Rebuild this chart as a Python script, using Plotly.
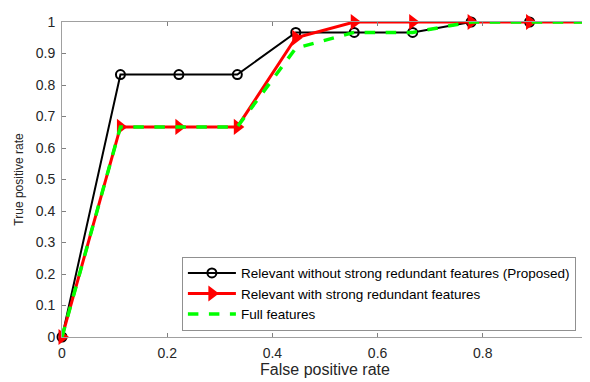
import plotly.graph_objects as go

fpr = [0, 1/9, 2/9, 3/9, 4/9, 5/9, 6/9, 7/9, 8/9, 1]
tpr_proposed = [0, 0.833, 0.833, 0.833, 0.967, 0.967, 0.967, 1, 1, 1]
tpr_redundant = [0, 0.667, 0.667, 0.667, 0.95, 1, 1, 1, 1, 1]
tpr_full = [0, 0.667, 0.667, 0.667, 0.917, 0.967, 0.967, 1, 1, 1]

names = ["Relevant without strong redundant features (Proposed)",
         "Relevant with strong redundant features",
         "Full features"]

x_ticks = [0, 0.2, 0.4, 0.6, 0.8, 1]
y_ticks = [0, 0.1, 0.2, 0.3, 0.4, 0.5, 0.6, 0.7, 0.8, 0.9, 1]

FONT = "Liberation Sans, Arial, sans-serif"

fig = go.Figure()
fig.add_trace(go.Scatter(
    x=fpr, y=tpr_proposed, name=names[0], mode="lines+markers",
    line=dict(color="black", width=2),
    marker=dict(symbol="circle-open", size=9, color="black", line=dict(width=2)),
    cliponaxis=False,
))
fig.add_trace(go.Scatter(
    x=fpr, y=tpr_redundant, name=names[1], mode="lines+markers",
    line=dict(color="#ff0000", width=3),
    marker=dict(symbol="triangle-right", size=14, color="#ff0000"),
    cliponaxis=False,
))
fig.add_trace(go.Scatter(
    x=fpr, y=tpr_full, name=names[2], mode="lines",
    line=dict(color="#00ff00", width=3.5, dash="dash"),
    cliponaxis=False,
))

axis_common = dict(
    showgrid=False, zeroline=False, showline=True, linecolor="#a0a0a0", linewidth=1,
    mirror="ticks", ticks="inside", ticklen=4, tickcolor="#808080",
    tickfont=dict(family=FONT, size=14, color="#262626"),
    ticklabeloverflow="allow",
)

fig.update_layout(
    width=590, height=382,
    margin=dict(l=54, r=8, t=6, b=53),
    paper_bgcolor="white", plot_bgcolor="white",
    font=dict(family=FONT, color="#262626"),
    showlegend=True,
    legend=dict(
        x=0.977, y=0.02, xanchor="right", yanchor="bottom",
        bgcolor="white", bordercolor="#909090", borderwidth=1,
        font=dict(family=FONT, size=13.5, color="black"),
        tracegroupgap=0, itemwidth=48,
    ),
    xaxis=dict(range=[0, 1], tickvals=x_ticks, ticktext=[str(v) for v in x_ticks],
               ticklabelstandoff=3,
               title=dict(text="False positive rate", font=dict(size=16), standoff=0),
               **axis_common),
    yaxis=dict(range=[0, 1], tickvals=y_ticks, ticktext=[("%g" % v) for v in y_ticks],
               ticklabelstandoff=3,
               title=dict(text="True positive rate", font=dict(size=12), standoff=9),
               **axis_common),
)

fig.write_html("out.html")
